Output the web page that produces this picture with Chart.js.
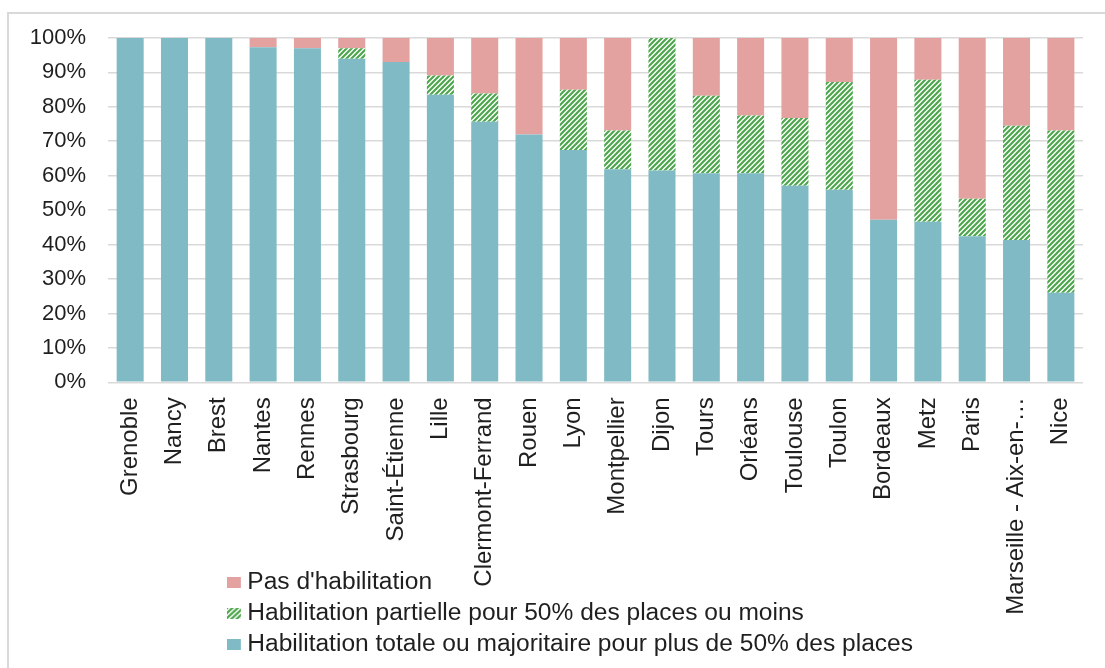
<!DOCTYPE html>
<html>
<head>
<meta charset="utf-8">
<script src="https://cdn.jsdelivr.net/npm/chart.js@4/dist/chart.umd.min.js"></script>
<style>
  html, body { margin: 0; padding: 0; background: #fff; }
  #wrap { position: relative; width: 1105px; height: 668px; overflow: hidden; }
  #frame { position: absolute; left: 7px; top: 12px; width: 1200px; height: 800px;
           border-left: 2px solid #d9d9d9; border-top: 2px solid #d9d9d9; }
  canvas { position: absolute; left: 0; top: 0; }
  #legend { position: absolute; left: 227px; top: 566px; font-family: "Liberation Sans", Arial, sans-serif;
            font-size: 23px; color: #1f1f1f; transform: scaleX(1.067); transform-origin: 0 0; }
  .item { display: flex; align-items: center; height: 31px; white-space: nowrap; }
  .sw { width: 13px; height: 11px; margin-right: 6px; margin-top: 1px; }
</style>
</head>
<body>
<div id="wrap">
  <div id="frame"></div>
  <canvas id="c" width="1105" height="668"></canvas>
  <div id="legend"></div>
</div>
<script>
const categories = ["Grenoble","Nancy","Brest","Nantes","Rennes","Strasbourg","Saint-Étienne","Lille","Clermont-Ferrand","Rouen","Lyon","Montpellier","Dijon","Tours","Orléans","Toulouse","Toulon","Bordeaux","Metz","Paris","Marseille - Aix-en-…","Nice"];
const totale    = [100, 100, 100, 97.3, 97, 94, 93, 83.5, 75.7, 72, 67.5, 61.9, 61.5, 60.7, 60.7, 57.1, 55.9, 47.2, 46.6, 42.4, 41.3, 26];
const partielle = [0, 0, 0, 0, 0, 3, 0, 5.6, 8.2, 0, 17.5, 11.2, 38.5, 22.5, 16.8, 19.7, 31.3, 0, 41.3, 10.9, 33.2, 47.1];
const pas       = [0, 0, 0, 2.7, 3, 3, 7, 10.9, 16.1, 28, 15, 26.9, 0, 16.8, 22.5, 23.2, 12.8, 52.8, 12.1, 46.7, 25.5, 26.9];
const yTicks = [0, 10, 20, 30, 40, 50, 60, 70, 80, 90, 100];
const seriesNames = ["Habilitation totale ou majoritaire pour plus de 50% des places",
                     "Habilitation partielle pour 50% des places ou moins",
                     "Pas d'habilitation"];

const TEAL = "#80BBC5", PINK = "#E3A2A0", GREEN = "#4FA64F";
const FONT = '"Liberation Sans", Arial, sans-serif';

// hatch pattern
const tile = document.createElement("canvas");
const n = 5;
tile.width = n; tile.height = n;
const tc = tile.getContext("2d");
tc.fillStyle = "#fff"; tc.fillRect(0, 0, n, n);
tc.strokeStyle = GREEN; tc.lineWidth = 2.2; tc.lineCap = "square";
tc.beginPath();
tc.moveTo(-1, n + 1); tc.lineTo(n + 1, -1);
tc.moveTo(-1, 1); tc.lineTo(1, -1);
tc.moveTo(n - 1, n + 1); tc.lineTo(n + 1, n - 1);
tc.stroke();
const ctx = document.getElementById("c").getContext("2d");
const hatch = ctx.createPattern(tile, "repeat");

const chart = new Chart(ctx, {
  type: "bar",
  data: {
    labels: categories,
    datasets: [
      { label: seriesNames[0], data: totale, backgroundColor: TEAL, swatch: TEAL },
      { label: seriesNames[1], data: partielle, backgroundColor: hatch, swatch: "hatch" },
      { label: seriesNames[2], data: pas, backgroundColor: PINK, swatch: PINK }
    ]
  },
  options: {
    responsive: false,
    animation: false,
    events: [],
    layout: { padding: { left: 0, right: 15, top: 38, bottom: 0 } },
    datasets: { bar: { categoryPercentage: 1, barPercentage: 0.61, borderWidth: 0 } },
    plugins: { legend: { display: false }, tooltip: { enabled: false } },
    scales: {
      x: {
        stacked: true,
        grid: { display: false, drawTicks: false },
        border: { display: false },
        ticks: { autoSkip: false, minRotation: 90, maxRotation: 90, padding: 15,
                 color: "#1f1f1f", font: { family: FONT, size: 24 } },
        afterFit: (s) => { s.height = 668 - 382.3; }
      },
      y: {
        stacked: true,
        min: 0, max: 100,
        afterBuildTicks: (s) => { s.ticks = yTicks.map(v => ({ value: v })); },
        grid: { color: "#d9d9d9", lineWidth: 1.6, drawTicks: false },
        border: { display: false },
        ticks: { padding: 22, color: "#1f1f1f", font: { family: FONT, size: 22 },
                 callback: (v) => v + "%" },
        afterFit: (s) => { s.width = 108; }
      }
    }
  }
});

// HTML legend built from datasets (reverse order)
const leg = document.getElementById("legend");
chart.data.datasets.slice().reverse().forEach(ds => {
  const it = document.createElement("div"); it.className = "item";
  const sw = document.createElement("span"); sw.className = "sw";
  if (ds.swatch === "hatch") {
    sw.style.backgroundImage = "url(" + tile.toDataURL() + ")";
  } else {
    sw.style.background = ds.swatch;
  }
  const tx = document.createElement("span"); tx.textContent = ds.label;
  it.appendChild(sw); it.appendChild(tx); leg.appendChild(it);
});
</script>
</body>
</html>
